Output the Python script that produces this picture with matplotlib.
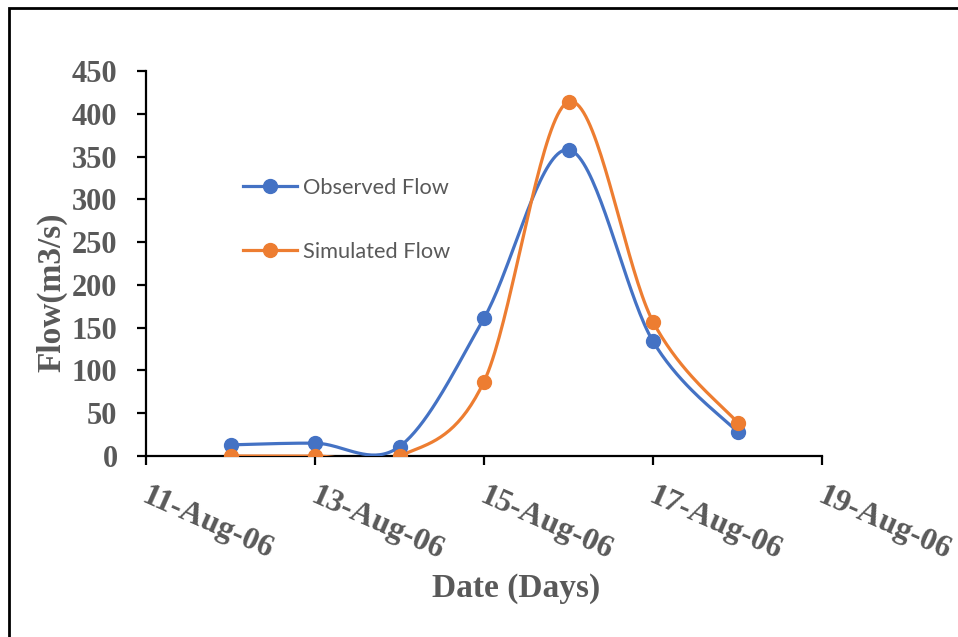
import matplotlib
matplotlib.use("Agg")
import matplotlib.pyplot as plt
import matplotlib.dates as mdates
import matplotlib.transforms as mtransforms
from matplotlib.patches import Rectangle
from datetime import date
import numpy as np

# daily flows, Aug 2006
days = [date(2006, 8, d) for d in range(12, 19)]
observed = [13, 15, 11, 161, 358, 134, 28]
simulated = [0, 0, 0, 87, 414, 157, 39]

tick_days = [date(2006, 8, d) for d in (11, 13, 15, 17, 19)]
y_ticks = [0, 50, 100, 150, 200, 250, 300, 350, 400, 450]

blue = "#4472C4"
orange = "#ED7D31"
grey = "#595959"


# excel style smoothed line (bezier through every point)
def smooth(x, y, n=40):
    x = np.asarray(x, float)
    y = np.asarray(y, float)
    px = np.concatenate([[x[0]], x, [x[-1]]])
    py = np.concatenate([[y[0]], y, [y[-1]]])
    t = np.linspace(0, 1, n)
    xs, ys = [], []
    for i in range(1, len(x)):
        p0 = np.array([px[i], py[i]])
        p3 = np.array([px[i + 1], py[i + 1]])
        c1 = p0 + (np.array([px[i + 1], py[i + 1]]) - np.array([px[i - 1], py[i - 1]])) / 6
        c2 = p3 - (np.array([px[i + 2], py[i + 2]]) - np.array([px[i], py[i]])) / 6
        b = ((1 - t) ** 3)[:, None] * p0 + (3 * (1 - t) ** 2 * t)[:, None] * c1 \
            + (3 * (1 - t) * t ** 2)[:, None] * c2 + (t ** 3)[:, None] * p3
        xs.append(b[:, 0])
        ys.append(b[:, 1])
    return np.concatenate(xs), np.concatenate(ys)


fig = plt.figure(figsize=(9.58, 6.37), dpi=100)
ax = fig.add_axes([146 / 958, 1 - 456 / 637, 676 / 958, 385 / 637])

xn = mdates.date2num(days)
for vals, col, name in [(observed, blue, "Observed Flow"), (simulated, orange, "Simulated Flow")]:
    sx, sy = smooth(xn, vals)
    ax.plot(sx, sy, color=col, lw=2.3, solid_capstyle="round", zorder=3)
    ax.plot(xn, vals, "o", color=col, ms=10, zorder=4)
    ax.plot([], [], "-o", color=col, lw=2.3, ms=10, label=name)

ax.set_xlim(mdates.date2num(tick_days[0]), mdates.date2num(tick_days[-1]))
ax.set_ylim(0, 450)
ax.set_xticks(mdates.date2num(tick_days))
ax.set_xticklabels([d.strftime("%d-%b-%y") for d in tick_days])
ax.set_yticks(y_ticks)

for s in ("top", "right"):
    ax.spines[s].set_visible(False)
for s in ("left", "bottom"):
    ax.spines[s].set_linewidth(1.6)
    ax.spines[s].set_color("black")

ax.tick_params(axis="both", length=6.5, width=1.6, color="black", labelcolor=grey)
ax.tick_params(axis="y", pad=14)
ax.tick_params(axis="x", pad=14)

for lab in ax.get_yticklabels():
    lab.set_fontfamily("Liberation Serif")
    lab.set_fontweight("bold")
    lab.set_fontsize(22)
shift = mtransforms.ScaledTranslation(3 / 100, 3 / 100, fig.dpi_scale_trans)
for lab in ax.get_xticklabels():
    lab.set_fontfamily("Liberation Serif")
    lab.set_fontweight("bold")
    lab.set_fontsize(23)
    lab.set_rotation(-24)
    lab.set_rotation_mode("anchor")
    lab.set_ha("left")
    lab.set_va("top")
    lab.set_transform(lab.get_transform() + shift)

fig.text(52 / 958, 1 - 292 / 637, "Flow(m3/s)", rotation=90, ha="center", va="center",
         family="Liberation Serif", weight="bold", size=24, color=grey)
fig.text(516 / 958, 1 - 588 / 637, "Date (Days)", ha="center", va="center",
         family="Liberation Serif", weight="bold", size=24, color=grey)

ax.legend(loc="upper left", bbox_to_anchor=(243 / 958, 1 - 178 / 637),
          bbox_transform=fig.transFigure, frameon=False, borderpad=0, borderaxespad=0,
          handlelength=2.48, handletextpad=0.25, labelspacing=2.0,
          prop={"family": "Lato", "size": 15.7}, labelcolor=grey)

# chart border
fig.patches.append(Rectangle((9 / 958, -0.05), 1.1, 1 - 8 / 637 + 0.05, transform=fig.transFigure,
                             fill=False, edgecolor="black", lw=2, zorder=10))

fig.savefig("out.png", dpi=100)
